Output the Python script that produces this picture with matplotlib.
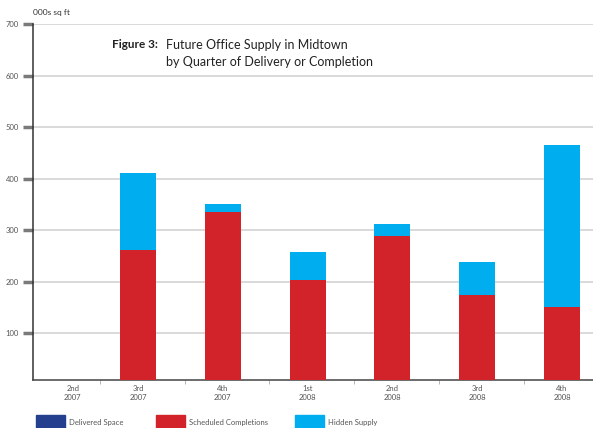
"""Future office supply in Midtown, by quarter of delivery or completion."""

import matplotlib
matplotlib.use("Agg")
import matplotlib.pyplot as plt
import numpy as np
from matplotlib.patches import Rectangle

plt.rcParams["font.family"] = ["Lato", "DejaVu Sans"]

quarters = ["2nd\n2007", "3rd\n2007", "4th\n2007", "1st\n2008", "2nd\n2008", "3rd\n2008", "4th\n2008"]
delivered = [0, 0, 0, 0, 0, 0, 0]
scheduled = [0, 262, 335, 203, 289, 174, 151]
hidden = [0, 149, 16, 55, 23, 64, 315]
y_ticks = [100, 200, 300, 400, 500, 600, 700]

C_DELIV = "#253f8f"
C_SCHED = "#d2232a"
C_HIDDEN = "#00aeef"
GRID = "#d9d9d9"
TXT = "#555555"

x = np.arange(len(quarters))
w = 0.425

fig = plt.figure(figsize=(5.93, 4.28), dpi=100)
ax = fig.add_axes([0.0556, 0.111, 0.9444, 0.8318])

ax.bar(x, delivered, w, color=C_DELIV, zorder=3)
ax.bar(x, scheduled, w, bottom=delivered, color=C_SCHED, zorder=3)
base = np.array(delivered) + np.array(scheduled)
ax.bar(x, hidden, w, bottom=base, color=C_HIDDEN, zorder=3)

ax.set_ylim(8, 700)
ax.set_xlim(-0.238, 6.366)
ax.set_yticks(y_ticks)
ax.set_yticklabels([str(v) for v in y_ticks], fontsize=5.5, color=TXT)
for v in y_ticks:
  ax.axhline(v, color=GRID, lw=1.4, zorder=1)
ax.tick_params(axis="y", length=7, width=2.5, color="#7a7a7a", pad=3)

# first (empty) quarter label sits a little right of its slot in the original
label_pos = x.astype(float)
label_pos[0] = 0.23
ax.set_xticks(label_pos)
ax.set_xticklabels(quarters, fontsize=5.5, color=TXT, linespacing=1.4)
ax.tick_params(axis="x", length=0, pad=3)
ax.set_xticks(x[:-1] + 0.55, minor=True)
ax.tick_params(axis="x", which="minor", length=3, width=0.6, color="#aaaaaa")

for s in ["top", "right"]:
  ax.spines[s].set_visible(False)
ax.spines["left"].set_color("#333333")
ax.spines["left"].set_linewidth(1.1)
ax.spines["bottom"].set_color("#444444")
ax.spines["bottom"].set_linewidth(1.1)

fig.text(33 / 593, 1 - 13 / 428, "000s sq ft", fontsize=6, color="#333333", va="center")
fig.text(112 / 593, 1 - 45 / 428, "Figure 3:", fontsize=8.5, fontweight="bold", color="#222222", va="center")
fig.text(166 / 593, 1 - 45 / 428, "Future Office Supply in Midtown", fontsize=9, color="#222222", va="center")
fig.text(166 / 593, 1 - 62 / 428, "by Quarter of Delivery or Completion", fontsize=9, color="#222222", va="center")

legend_items = [("Delivered Space", C_DELIV, 36), ("Scheduled Completions", C_SCHED, 156), ("Hidden Supply", C_HIDDEN, 295)]
for label, col, px in legend_items:
  fig.add_artist(Rectangle((px / 593, 0), 29 / 593, 13 / 428, transform=fig.transFigure, color=col))
  fig.text((px + 33) / 593, 6 / 428, label, fontsize=5.5, color=TXT, va="center")

fig.savefig("out.png", dpi=100)
